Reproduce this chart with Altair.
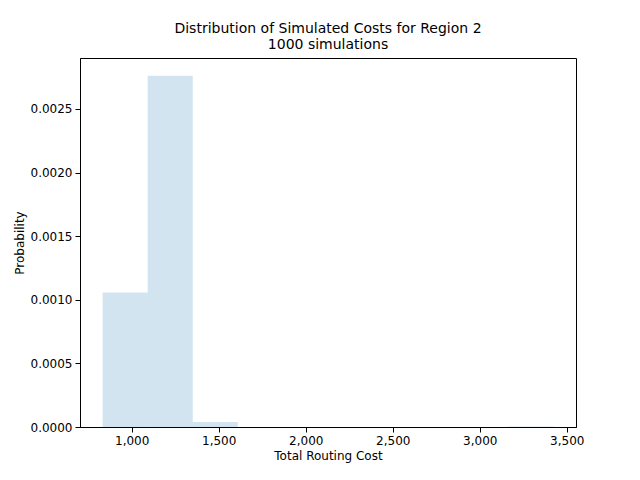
import altair as alt
import pandas as pd

bin_start = 833
bin_width = 259
counts = [274, 715, 10, 0, 0, 0, 0, 0, 0, 1]
n_sims = 1000

df = pd.DataFrame({
    'lo': [bin_start + i * bin_width for i in range(len(counts))],
    'hi': [bin_start + (i + 1) * bin_width for i in range(len(counts))],
    'p': [c / (n_sims * bin_width) for c in counts],
})

font = 'DejaVu Sans'
chart = (
    alt.Chart(df)
    .mark_rect(color='#1f77b4', opacity=0.2)
    .encode(
        x=alt.X('lo:Q', title='Total Routing Cost',
                scale=alt.Scale(domain=[703, 3553], nice=False, zero=False),
                axis=alt.Axis(values=[1000, 1500, 2000, 2500, 3000, 3500], grid=False)),
        x2='hi:Q',
        y=alt.Y('p:Q', title='Probability',
                scale=alt.Scale(domain=[0, 0.0029], nice=False),
                axis=alt.Axis(values=[0, 0.0005, 0.001, 0.0015, 0.002, 0.0025],
                              format='.4f', grid=False)),
        y2=alt.datum(0),
    )
    .properties(
        width=496, height=369,
        title=alt.Title(['Distribution of Simulated Costs for Region 2', '1000 simulations'],
                        font=font, fontSize=14, fontWeight='normal', color='black', offset=6),
        autosize=alt.AutoSizeParams(type='none'),
        padding={'left': 72, 'top': 50, 'right': 56, 'bottom': 45},
    )
    .configure_view(stroke='black', strokeWidth=1)
    .configure_axis(labelFont=font, titleFont=font, labelFontSize=12, titleFontSize=12,
                    titleFontWeight='normal', labelColor='black', titleColor='black',
                    domainColor='black', tickColor='black', tickSize=5, labelPadding=3)
)

chart.save("out.html", embed_options={"renderer": "svg", "actions": False})
